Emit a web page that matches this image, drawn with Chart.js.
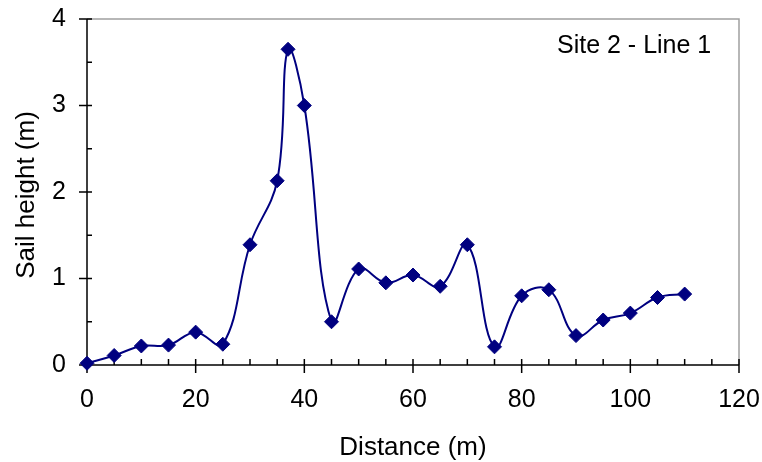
<!DOCTYPE html>
<html>
<head>
<meta charset="utf-8">
<script src="https://cdn.jsdelivr.net/npm/chart.js@4/dist/chart.umd.min.js"></script>
<style>
html, body { margin: 0; padding: 0; background: #fff; }
#wrap { width: 762px; height: 462px; }
</style>
</head>
<body>
<div id="wrap"><canvas id="chart"></canvas></div>
<script>
// survey transect: distance along the line vs sail height
const distance   = [0, 5, 10, 15, 20, 25, 30, 35, 37, 40, 45, 50, 55, 60, 65, 70, 75, 80, 85, 90, 95, 100, 105, 110];
const sailHeight = [0.02, 0.11, 0.22, 0.23, 0.38, 0.24, 1.39, 2.13, 3.65, 3.00, 0.50, 1.11, 0.95, 1.04, 0.91, 1.39, 0.21, 0.80, 0.87, 0.34, 0.52, 0.60, 0.78, 0.82];
const xTicks = [0, 20, 40, 60, 80, 100, 120];
const yTicks = [0, 1, 2, 3, 4];
const seriesName = 'Site 2 - Line 1';
const xTitle = 'Distance (m)';
const yTitle = 'Sail height (m)';

const FONT = '"Liberation Sans", Arial, sans-serif';
const NAVY = '#000080';

// axes, tick marks, frame and the series label
const frame = {
    id: 'frame',
    beforeDatasetsDraw(chart) {
        const ctx = chart.ctx;
        const a = chart.chartArea;
        const xs = chart.scales.x;
        const ys = chart.scales.y;
        ctx.save();
        ctx.lineWidth = 1.5;
        ctx.strokeStyle = '#a0a0a0';
        ctx.beginPath();
        ctx.moveTo(a.left, a.top);
        ctx.lineTo(a.right, a.top);
        ctx.lineTo(a.right, a.bottom);
        ctx.stroke();

        ctx.strokeStyle = '#000';
        ctx.beginPath();
        ctx.moveTo(a.left, a.top);
        ctx.lineTo(a.left, a.bottom);
        ctx.lineTo(a.right, a.bottom);
        // y ticks: majors cross the axis, halves inside
        for (let v = 0; v <= 4; v += 0.5) {
            const py = ys.getPixelForValue(v);
            const major = Number.isInteger(v);
            ctx.moveTo(a.left - (major ? 8 : 0), py);
            ctx.lineTo(a.left + 5, py);
        }
        // x ticks: every 20 crosses, every 5 inside
        for (let v = 0; v <= 120; v += 5) {
            const px = xs.getPixelForValue(v);
            const major = v % 20 === 0;
            ctx.moveTo(px, a.bottom - 6);
            ctx.lineTo(px, a.bottom + (major ? 8 : 0));
        }
        ctx.stroke();

        ctx.fillStyle = '#000';
        ctx.font = '25px ' + FONT;
        ctx.textAlign = 'left';
        ctx.textBaseline = 'alphabetic';
        ctx.fillText(seriesName, 557, 53);

        ctx.font = '26px ' + FONT;
        ctx.textAlign = 'center';
        ctx.fillText(xTitle, (a.left + a.right) / 2, 455);
        ctx.translate(34, (a.top + a.bottom) / 2 + 3);
        ctx.rotate(-Math.PI / 2);
        ctx.fillText(yTitle, 0, 0);
        ctx.restore();
    }
};

new Chart(document.getElementById('chart'), {
    type: 'line',
    data: {
        datasets: [{
            label: seriesName,
            data: distance.map((d, i) => ({ x: d, y: sailHeight[i] })),
            borderColor: NAVY,
            backgroundColor: NAVY,
            borderWidth: 2,
            tension: 0.4,
            pointStyle: 'rectRot',
            pointRadius: 7,
            pointBorderWidth: 1,
            pointBorderColor: NAVY,
            clip: false
        }]
    },
    options: {
        responsive: true,
        maintainAspectRatio: false,
        animation: false,
        layout: { padding: { top: 19, right: 23, left: 0, bottom: 0 } },
        plugins: {
            legend: { display: false },
            tooltip: { enabled: false }
        },
        scales: {
            x: {
                type: 'linear',
                min: 0,
                max: 120,
                afterBuildTicks: s => { s.ticks = xTicks.map(v => ({ value: v })); },
                afterFit: s => { s.height = 97; s.paddingLeft = 0; s.paddingRight = 0; },
                grid: { display: false, drawTicks: false },
                border: { display: false },
                ticks: {
                    color: '#000',
                    padding: 20,
                    maxRotation: 0,
                    font: { family: FONT, size: 25 }
                }
            },
            y: {
                min: 0,
                max: 4,
                afterBuildTicks: s => { s.ticks = yTicks.map(v => ({ value: v })); },
                afterFit: s => { s.width = 87; s.paddingTop = 0; s.paddingBottom = 0; },
                grid: { display: false, drawTicks: false },
                border: { display: false },
                ticks: {
                    color: '#000',
                    padding: 21,
                    font: { family: FONT, size: 25 }
                }
            }
        }
    },
    plugins: [frame]
});
</script>
</body>
</html>
